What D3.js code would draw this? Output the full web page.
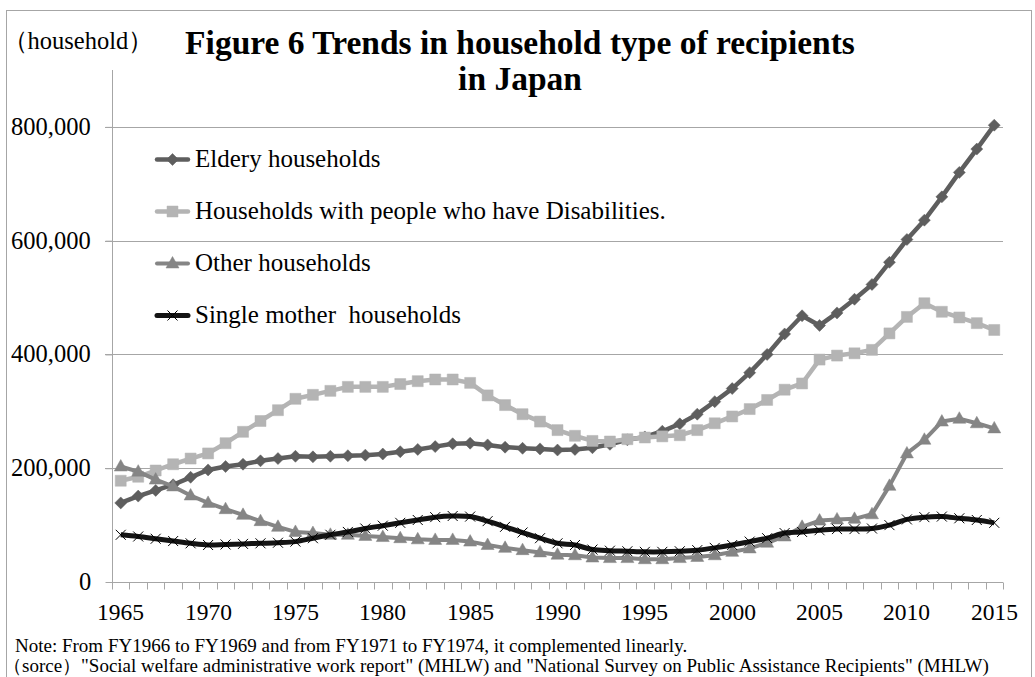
<!DOCTYPE html>
<html>
<head>
<meta charset="utf-8">
<script src="https://cdn.jsdelivr.net/npm/d3@7"></script>
<style>
  html, body { margin: 0; padding: 0; background: #fff; }
  #wrap { position: relative; width: 1035px; height: 677px; overflow: hidden; }
  svg { display: block; position: absolute; left: 0; top: 0; }
  #labels { position: absolute; left: 0; top: 0; width: 1035px; height: 677px; pointer-events: none; }
  .lbl { position: absolute; font-family: "Liberation Serif", "Times New Roman", serif; color: #000;
         white-space: pre; line-height: 1; margin: 0; padding: 0; transform-origin: 0 0; }
</style>
</head>
<body>
<div id="wrap">
  <svg id="chart" width="1035" height="677"></svg>
  <div id="labels"></div>
</div>
<script>
const years = d3.range(1965, 2016);
const elderly = [139000,151000,161000,171000,184000,197000,203000,207000,213000,217000,
  221000,220000,221000,222000,223000,225000,229000,233000,238000,243000,
  244000,241000,237000,235000,234000,232000,233000,236000,242000,250000,
  255000,265000,278000,295000,317000,340000,368000,400000,436000,468000,
  451000,473000,497000,523000,562000,602000,636000,677000,720000,761000,803000];
const disability = [178000,185000,196000,207000,217000,226000,244000,264000,283000,302000,
  322000,329000,336000,343000,343000,343000,348000,353000,356000,356000,
  350000,328000,311000,295000,282000,267000,257000,248000,247000,251000,
  254000,256000,258000,267000,279000,291000,304000,320000,338000,349000,
  391000,398000,402000,408000,437000,466000,490000,475000,465000,455000,443000];
const other = [203000,194000,180000,168000,152000,139000,128000,118000,107000,97000,
  88000,86000,83000,83000,81000,79000,77000,75000,74000,74000,
  71000,65000,60000,56000,52000,48000,47000,43000,42000,42000,
  40000,40000,42000,44000,47000,53000,59000,69000,80000,97000,
  108000,110000,111000,119000,169000,226000,250000,282000,287000,279000,270000];
const singleMother = [83000,80000,76000,72000,68000,65000,66000,67000,68000,69000,
  71000,77000,83000,88000,94000,99000,104000,109000,114000,116000,
  115000,107000,97000,87000,77000,68000,65000,57000,55000,54000,
  53000,53000,54000,56000,60000,65000,71000,77000,86000,88000,
  91000,93000,93000,94000,100000,110000,114000,115000,112000,109000,104000];
const seriesNames = ["Eldery households", "Households with people who have Disabilities.", "Other households", "Single mother  households"];
const yTicks = [0, 200000, 400000, 600000, 800000];
const xLabelYears = [1965,1970,1975,1980,1985,1990,1995,2000,2005,2010,2015];
const titleLines = ["Figure 6 Trends in household type of recipients", "in Japan"];
const unitLabel = "（household）";
const noteLines = [
  "Note: From FY1966 to FY1969 and from FY1971 to FY1974, it complemented linearly.",
  "（sorce）\"Social welfare administrative work report\" (MHLW) and \"National Survey on Public Assistance Recipients\" (MHLW)"
];

const svg = d3.select("#chart");
const labels = d3.select("#labels");
const L = 112, R = 1003, T = 70, B = 582;
const ASC = 0.8375; // baseline offset (em) for Liberation Serif with line-height 1
const BASE = 18;    // regular text is laid out at 18px and scaled up

// text placed by baseline as real HTML text over the svg
function addText(x, baseline, str, size, anchor, weight) {
  const bold = weight === "bold";
  const base = (bold || size <= 21) ? size : BASE;
  const k = size / base;
  const div = labels.append("div").attr("class", "lbl")
    .style("left", x + "px")
    .style("top", (baseline - ASC * size) + "px")
    .style("font-size", base + "px")
    .style("font-weight", bold ? "bold" : "normal")
    .style("transform", k !== 1 ? `scale(${k})` : null)
    .text(str);
  if (anchor === "middle" || anchor === "end") {
    const w = div.node().getBoundingClientRect().width;
    div.style("left", (x - (anchor === "middle" ? w / 2 : w)) + "px");
  }
  return div;
}

// outer frame
svg.append("rect").attr("x", 6.5).attr("y", 10.5).attr("width", 1025).attr("height", 700)
  .attr("fill", "none").attr("stroke", "#a6a6a6").attr("stroke-width", 1);

const x = d3.scaleBand().domain(years).range([L, R]).padding(0);
const y = d3.scaleLinear().domain([0, 900000]).range([B, T]);
const cx = d => x(d) + x.bandwidth() / 2;

// gridlines
svg.append("g").selectAll("line").data(yTicks.filter(d => d > 0)).join("line")
  .attr("x1", L - 7).attr("x2", R).attr("y1", d => Math.round(y(d)) + 0.5).attr("y2", d => Math.round(y(d)) + 0.5)
  .attr("stroke", "#a6a6a6").attr("stroke-width", 1);

// y axis
const yAxis = d3.axisLeft(y).tickValues(yTicks).tickSize(7).tickFormat("");
const gy = svg.append("g").attr("transform", `translate(${L + 0.5},0)`).call(yAxis);
gy.select(".domain").attr("stroke", "#a6a6a6").attr("d", `M0,${T}V${B}`);
gy.selectAll(".tick line").attr("stroke", "#a6a6a6");
const fmt = d3.format(",");
yTicks.forEach(v => addText(91, y(v) + 8.5, fmt(v), 24.5, "end"));

// x axis
const gx = svg.append("g").attr("transform", `translate(0,${B + 0.5})`);
gx.append("line").attr("x1", L).attr("x2", R).attr("y1", 0).attr("y2", 0).attr("stroke", "#a6a6a6");
const boundaries = years.map(d => x(d)).concat([R]);
gx.append("g").selectAll("line").data(boundaries).join("line")
  .attr("x1", d => Math.round(d) + 0.5).attr("x2", d => Math.round(d) + 0.5)
  .attr("y1", 0).attr("y2", 7).attr("stroke", "#a6a6a6");
xLabelYears.forEach(yr => addText(cx(yr), 620, String(yr), 23.5, "middle"));

// series
const series = [
  { name: seriesNames[0], values: elderly, color: "#5e5e5e", marker: "diamond", width: 4.5, curve: d3.curveLinear },
  { name: seriesNames[1], values: disability, color: "#b4b4b4", marker: "square", width: 4.5, curve: d3.curveLinear },
  { name: seriesNames[2], values: other, color: "#858585", marker: "triangle", width: 4, curve: d3.curveLinear },
  { name: seriesNames[3], values: singleMother, color: "#141414", marker: "x", width: 5, curve: d3.curveCatmullRom.alpha(0.5) }
];

function markerPath(type) {
  if (type === "diamond") return "M0,-6L6,0L0,6L-6,0Z";
  if (type === "square") return "M-5.5,-5.5H5.5V5.5H-5.5Z";
  if (type === "triangle") return "M0,-7L6.5,4.5H-6.5Z";
  return "M-5,-5L5,5M-5,5L5,-5";
}

const gS = svg.append("g");
series.forEach(s => {
  const line = d3.line().x((d, i) => cx(years[i])).y(d => y(d)).curve(s.curve);
  const g = gS.append("g");
  g.append("path").attr("d", line(s.values)).attr("fill", "none").attr("stroke", s.color)
    .attr("stroke-width", s.width).attr("stroke-linejoin", "round");
  g.selectAll("path.m").data(s.values).join("path").attr("class", "m")
    .attr("transform", (d, i) => `translate(${cx(years[i])},${y(d)})`)
    .attr("d", markerPath(s.marker))
    .attr("fill", s.marker === "x" ? "none" : s.color)
    .attr("stroke", s.marker === "x" ? "#000" : s.color)
    .attr("stroke-width", s.marker === "x" ? 1 : 0.5);
});

// legend
const legend = svg.append("g");
series.forEach((s, i) => {
  const by = 167 + i * 52;
  const my = by - 7.5;
  const g = legend.append("g");
  g.append("line").attr("x1", 157).attr("x2", 188).attr("y1", my).attr("y2", my)
    .attr("stroke", s.color).attr("stroke-width", s.width).attr("stroke-linecap", "round");
  g.append("path").attr("transform", `translate(172.5,${my})`).attr("d", markerPath(s.marker))
    .attr("fill", s.marker === "x" ? "none" : s.color)
    .attr("stroke", s.marker === "x" ? "#000" : s.color).attr("stroke-width", s.marker === "x" ? 1 : 0.5);
  addText(195, by, s.name, 25);
});

// titles
titleLines.forEach((t, i) => addText(520, 54 + i * 36, t, 33.5, "middle", "bold"));

addText(3, 50, unitLabel, 24.5);

noteLines.forEach((t, i) => addText(i === 0 ? 15 : 3, 652 + i * 19.5, t, 19));
</script>
</body>
</html>
